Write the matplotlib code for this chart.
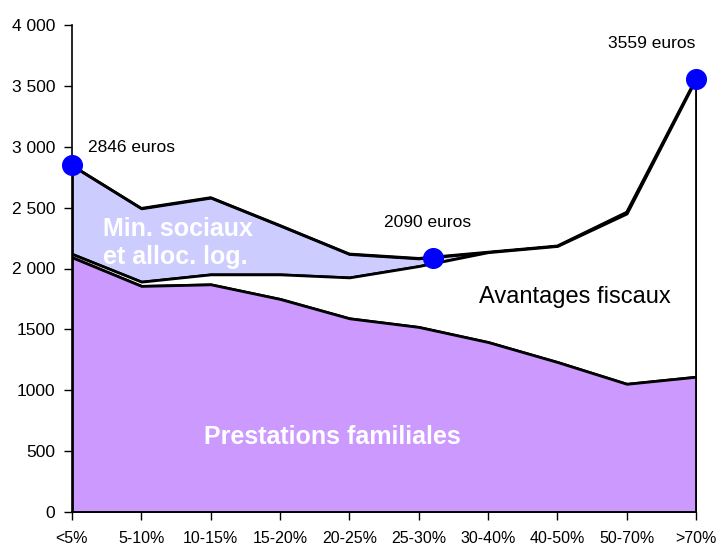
import matplotlib
matplotlib.use("Agg")
import matplotlib.pyplot as plt
import numpy as np

plt.rcParams['font.family'] = ['Liberation Sans', 'DejaVu Sans']

categories = ["<5%", "5-10%", "10-15%", "15-20%", "20-25%", "25-30%",
              "30-40%", "40-50%", "50-70%", ">70%"]
prestations_familiales = [2092, 1857, 1870, 1750, 1591, 1520, 1396, 1232, 1053, 1111]
avantages_fiscaux = [28, 35, 82, 202, 336, 500, 738, 953, 1399, 2448]
min_sociaux = [726, 602, 630, 401, 192, 63, 0, 0, 10, 0]

dot_x = [0, 5.2, 9]
dot_values = [2846, 2090, 3559]
dot_labels = ["2846 euros", "2090 euros", "3559 euros"]

yticks = [0, 500, 1000, 1500, 2000, 2500, 3000, 3500, 4000]
ytick_labels = ["0", "500", "1000", "1500", "2 000", "2 500", "3 000", "3 500", "4 000"]

fig = plt.figure(figsize=(7.22, 5.47), dpi=100)
ax = fig.add_axes([72/722, 35/547, 624/722, 487/547])

x = np.arange(len(categories))
pf = np.array(prestations_familiales, dtype=float)
af = pf + np.array(avantages_fiscaux, dtype=float)
ms = af + np.array(min_sociaux, dtype=float)

lw = 2
ax.fill_between(x, af, ms, facecolor="#CCCCFF", edgecolor="black", linewidth=lw, zorder=2)
ax.fill_between(x, pf, af, facecolor="white", edgecolor="black", linewidth=lw, zorder=3)
ax.fill_between(x, 0, pf, facecolor="#CC99FF", edgecolor="black", linewidth=lw, zorder=4)
ax.plot(x, ms, color="black", linewidth=lw, zorder=5)

ax.scatter(dot_x, dot_values, s=200, color="#0000FF", zorder=10, clip_on=False)
label_offsets = [(11.5, 13), (-3.6, 25), (-32, 25)]
label_ha = ["left", "center", "center"]
for xv, yv, lab, off, ha in zip(dot_x, dot_values, dot_labels, label_offsets, label_ha):
    ax.annotate(lab, (xv, yv), xytext=off, textcoords="offset points",
                ha=ha, va="center", fontsize=12.5, zorder=11)

ax.text(0.447, 2209, "Min. sociaux\net alloc. log.", color="white", fontsize=18,
        fontweight="bold", ha="left", va="center", linespacing=1.2, zorder=6)
ax.text(3.75, 616, "Prestations familiales", color="white", fontsize=18,
        fontweight="bold", ha="center", va="center", zorder=6)
ax.text(7.26, 1766, "Avantages fiscaux", color="black", fontsize=17,
        ha="center", va="center", zorder=6)

ax.set_xlim(0, 9)
ax.set_ylim(0, 4000)
ax.set_xticks(x)
ax.set_xticklabels(categories, fontsize=11.5)
ax.set_yticks(yticks)
ax.set_yticklabels(ytick_labels, fontsize=12.5)
ax.tick_params(axis="both", direction="out", length=6, width=1, color="black")
ax.tick_params(axis="x", pad=8)
ax.tick_params(axis="y", pad=6)
ax.spines["top"].set_visible(False)
ax.spines["right"].set_visible(False)
for s in ["left", "bottom"]:
    ax.spines[s].set_linewidth(1.2)
    ax.spines[s].set_zorder(8)

fig.savefig("out.png", dpi=100)
